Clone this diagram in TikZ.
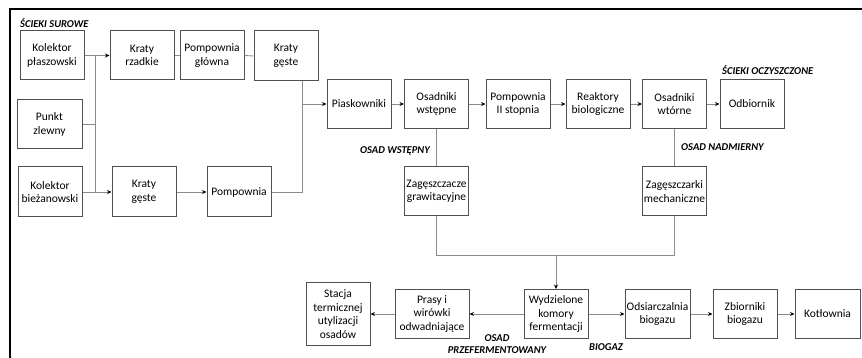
\documentclass[tikz,border=0pt]{standalone}
\usepackage{fontspec}
\setmainfont{Carlito}
\usetikzlibrary{arrows.meta}
\definecolor{rama}{HTML}{505050}
\definecolor{linia}{HTML}{8C8C8C}
\begin{document}
\begin{tikzpicture}[x=1pt,y=-1pt,>={Stealth[black,length=4.5pt,width=4pt]},
	blok/.style={draw=rama,line width=1pt,minimum width=64pt,minimum height=49pt,align=center,inner sep=1pt,font=\fontsize{11.5}{13.5}\selectfont},
	pol/.style={draw=linia,line width=.9pt},
	strz/.style={pol,->},
	opis/.style={font=\fontsize{10.5}{12}\selectfont\bfseries\itshape,inner sep=0pt,align=center}]
	\useasboundingbox (0,0) rectangle (862,358);
	% ramka
	\draw[line width=1.3pt] (862,9) -- (10,9) -- (10,358);
	% scieki surowe
	\node[opis,anchor=west] (surowe) at (20,23) {ŚCIEKI SUROWE};
	\node[blok] (kp) at (52,55.5) {Kolektor\\płaszowski};
	\node[blok,minimum width=65pt] (pz) at (49.5,124.5) {Punkt\\zlewny};
	\node[blok,minimum height=50pt] (kb) at (50,192) {Kolektor\\bieżanowski};
	\node[blok] (kr) at (142,55.5) {Kraty\\rzadkie};
	\node[blok] (pg) at (212,55.5) {Pompownia\\główna};
	\node[blok,minimum height=50pt] (kg1) at (286,56) {Kraty\\gęste};
	\node[blok,minimum height=50pt] (kg2) at (144,192) {Kraty\\gęste};
	\node[blok,minimum height=50pt] (pp) at (239,192) {Pompownia};
	\coordinate (b1) at (95,55.5);
	\coordinate (b2) at (95,192);
	\coordinate (b3) at (302,192);
	\draw[pol] (b1) -- (b2);
	\draw[strz] (kp.east) -- (kr.west);
	\draw[pol] (pz.east) -- (pz.east -| b1);
	\draw[strz] (kb.east) -- (kg2.west);
	\draw[pol] (kr.east) -- (pg.west);
	\draw[pol] (pg.east) -- (kg1.west);
	\draw[strz] (kg2.east) -- (pp.west);
	\draw[pol] (pp.east) -- (b3) -- (kg1.south -| b3);
	% ciag glowny
	\node[blok] (pias) at (359,104) {Piaskowniki};
	\node[blok] (osw) at (436.5,104) {Osadniki\\wstępne};
	\node[blok] (p2) at (518,104) {Pompownia\\II stopnia};
	\node[blok] (rb) at (598,104) {Reaktory\\biologiczne};
	\node[blok] (owt) at (674.5,104) {Osadniki\\wtórne};
	\node[blok] (odb) at (752,104) {Odbiornik};
	\node[opis,anchor=west] (oczyszczone) at (722,70) {ŚCIEKI OCZYSZCZONE};
	\draw[strz] (b3 |- pias) -- (pias.west);
	\foreach \a/\b in {pias/osw,osw/p2,p2/rb,rb/owt,owt/odb}
	\draw[strz] (\a) -- (\b);
	% osady
	\node[opis,anchor=east] (wstepny) at (430,151) {OSAD WSTĘPNY};
	\node[opis,anchor=west] (nadmierny) at (681,147) {OSAD NADMIERNY};
	\node[blok] (zg) at (436.5,191.5) {Zagęszczacze\\grawitacyjne};
	\node[blok] (zm) at (674.5,191.5) {Zagęszczarki\\mechaniczne};
	\draw[pol] (osw) -- (zg);
	\draw[pol] (owt) -- (zm);
	\coordinate (b4) at (556,255);
	\draw[pol] (zg.south) -- (zg.south |- b4) -- (zm.south |- b4) -- (zm.south);
	% fermentacja
	\node[blok] (wkf) at (556,314) {Wydzielone\\komory\\fermentacji};
	\node[blok,minimum width=74pt] (pw) at (432,314) {Prasy i\\wirówki\\odwadniające};
	\node[blok,minimum height=63pt] (st) at (338,314) {Stacja\\termicznej\\utylizacji\\osadów};
	\node[blok,minimum width=65pt] (ob) at (657.5,314) {Odsiarczalnia\\biogazu};
	\node[blok] (zb) at (745,314) {Zbiorniki\\biogazu};
	\node[blok,minimum width=65pt] (kot) at (827.5,314) {Kotłownia};
	\node[opis] (przeferm) at (497,344) {OSAD\\PRZEFERMENTOWANY};
	\node[opis,anchor=west] (biogaz) at (589,347) {BIOGAZ};
	\draw[strz] (b4) -- (wkf.north);
	\foreach \a/\b in {wkf/pw,pw/st,wkf/ob,ob/zb,zb/kot}
	\draw[strz] (\a) -- (\b);
\end{tikzpicture}
\end{document}
